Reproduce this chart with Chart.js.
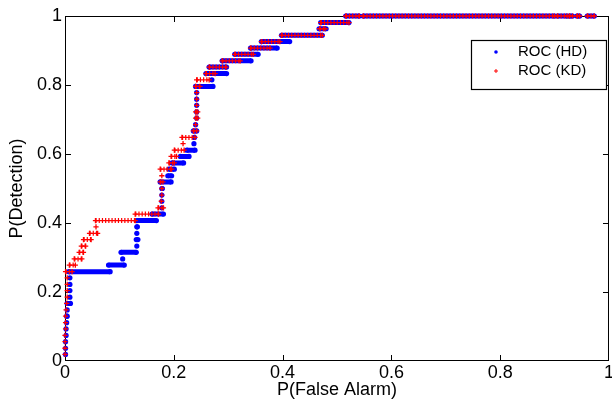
<!DOCTYPE html>
<html>
<head>
<meta charset="utf-8">
<script src="https://cdn.jsdelivr.net/npm/chart.js@4.4.1/dist/chart.umd.min.js"></script>
<style>
html, body { margin: 0; padding: 0; background: #fff; overflow: hidden; }
/* 3px de mas a la derecha: el medio rotulo "1" queda fuera como en el original */
#wrap { width: 615px; height: 401px; }
</style>
</head>
<body>
<div id="wrap"><canvas id="roc"></canvas></div>
<script>
// Ticks de ambos ejes
const ejeTicks = [0, 0.2, 0.4, 0.6, 0.8, 1];

// ROC (HD): un nivel de deteccion por fila -> y, x inicial, x final
const hdY  = [0.019, 0.037, 0.056, 0.074, 0.093, 0.111, 0.130, 0.148, 0.167, 0.185, 0.204, 0.222, 0.241, 0.259, 0.278, 0.296, 0.315, 0.333, 0.352, 0.370, 0.389, 0.407, 0.426, 0.444, 0.463, 0.481, 0.500, 0.519, 0.537, 0.556, 0.574, 0.593, 0.611, 0.630, 0.648, 0.667, 0.685, 0.704, 0.722, 0.741, 0.759, 0.778, 0.796, 0.815, 0.833, 0.852, 0.870, 0.889, 0.907, 0.926, 0.944, 0.963, 0.981, 1, 1, 1, 1, 1, 1];
const hdX0 = [0.001, 0.001, 0.001, 0.002, 0.002, 0.003, 0.003, 0.004, 0.004, 0.009, 0.009, 0.009, 0.009, 0.007, 0.080, 0.106, 0.103, 0.132, 0.131, 0.132, 0.132, 0.132, 0.160, 0.178, 0.178, 0.178, 0.178, 0.175, 0.189, 0.191, 0.197, 0.212, 0.224, 0.237, 0.238, 0.236, 0.240, 0.242, 0.242, 0.242, 0.242, 0.242, 0.240, 0.270, 0.259, 0.265, 0.289, 0.312, 0.341, 0.361, 0.398, 0.467, 0.470, 0.516, 0.548, 0.905, 0.927, 0.941, 0.960];
const hdX1 = [0.001, 0.001, 0.001, 0.002, 0.002, 0.003, 0.004, 0.004, 0.010, 0.009, 0.009, 0.009, 0.009, 0.083, 0.109, 0.106, 0.131, 0.132, 0.134, 0.132, 0.133, 0.168, 0.181, 0.178, 0.178, 0.178, 0.179, 0.195, 0.196, 0.201, 0.218, 0.228, 0.239, 0.237, 0.238, 0.242, 0.240, 0.242, 0.242, 0.242, 0.242, 0.242, 0.272, 0.270, 0.297, 0.297, 0.342, 0.355, 0.390, 0.413, 0.473, 0.480, 0.522, 0.541, 0.900, 0.923, 0.933, 0.946, 0.973];

// ROC (KD)
const kdY  = [0.019, 0.037, 0.056, 0.074, 0.093, 0.111, 0.130, 0.148, 0.167, 0.185, 0.204, 0.222, 0.241, 0.259, 0.278, 0.296, 0.315, 0.333, 0.352, 0.370, 0.389, 0.407, 0.426, 0.444, 0.463, 0.481, 0.500, 0.519, 0.537, 0.556, 0.574, 0.593, 0.611, 0.630, 0.648, 0.667, 0.685, 0.704, 0.722, 0.741, 0.759, 0.778, 0.796, 0.815, 0.833, 0.852, 0.870, 0.889, 0.907, 0.926, 0.944, 0.963, 0.981, 1, 1, 1, 1, 1, 1];
const kdX0 = [0.000, 0.000, 0.000, 0.000, 0.001, 0.001, 0.001, 0.002, 0.003, 0.004, 0.004, 0.004, 0.004, 0.001, 0.008, 0.017, 0.026, 0.030, 0.034, 0.045, 0.057, 0.056, 0.129, 0.171, 0.177, 0.178, 0.178, 0.175, 0.178, 0.175, 0.191, 0.195, 0.201, 0.217, 0.215, 0.236, 0.240, 0.240, 0.240, 0.242, 0.242, 0.242, 0.240, 0.242, 0.259, 0.265, 0.289, 0.312, 0.341, 0.361, 0.398, 0.468, 0.470, 0.516, 0.548, 0.905, 0.927, 0.941, 0.960];
const kdX1 = [0.000, 0.000, 0.000, 0.000, 0.001, 0.001, 0.001, 0.002, 0.003, 0.004, 0.004, 0.004, 0.004, 0.013, 0.019, 0.031, 0.034, 0.038, 0.048, 0.060, 0.057, 0.129, 0.172, 0.181, 0.177, 0.178, 0.178, 0.180, 0.178, 0.196, 0.201, 0.205, 0.219, 0.217, 0.239, 0.242, 0.240, 0.244, 0.244, 0.242, 0.242, 0.242, 0.248, 0.265, 0.276, 0.296, 0.322, 0.346, 0.377, 0.395, 0.473, 0.478, 0.522, 0.541, 0.900, 0.923, 0.933, 0.946, 0.973];

const fuente = "'Liberation Sans', Arial, Helvetica, sans-serif";

// Cada nivel es un tramo horizontal; un null entre tramos corta la linea
function puntos(ys, x0s, x1s) {
    const out = [];
    ys.forEach((y, i) => {
        out.push({ x: x0s[i], y: y });
        if (x1s[i] > x0s[i]) out.push({ x: x1s[i], y: y });
        out.push({ x: x1s[i], y: null });
    });
    return out;
}

// Marco estilo MATLAB con ticks hacia adentro
const marco = {
    id: 'marco',
    beforeDatasetsDraw(chart) {
        const { ctx, chartArea: a, scales } = chart;
        ctx.save();
        ctx.strokeStyle = '#000';
        ctx.lineWidth = 1;
        ctx.strokeRect(a.left + 0.5, a.top + 0.5, a.right - a.left - 1, a.bottom - a.top - 1);
        ctx.beginPath();
        ejeTicks.slice(1, -1).forEach(v => {
            const px = Math.round(scales.x.getPixelForValue(v)) + 0.5;
            ctx.moveTo(px, a.bottom); ctx.lineTo(px, a.bottom - 6);
            ctx.moveTo(px, a.top); ctx.lineTo(px, a.top + 6);
            const py = Math.round(scales.y.getPixelForValue(v)) + 0.5;
            ctx.moveTo(a.left, py); ctx.lineTo(a.left + 6, py);
            ctx.moveTo(a.right, py); ctx.lineTo(a.right - 6, py);
        });
        ctx.stroke();
        ctx.restore();
    }
};

// Leyenda con recuadro dentro del area
const leyenda = {
    id: 'leyenda',
    afterDatasetsDraw(chart) {
        const { ctx, chartArea: a } = chart;
        const x = a.right - 138, y = a.top + 24, w = 135, h = 49;
        ctx.save();
        ctx.fillStyle = '#fff';
        ctx.fillRect(x, y, w, h);
        ctx.strokeStyle = '#000';
        ctx.lineWidth = 1.2;
        ctx.strokeRect(x + 0.5, y + 0.5, w, h);
        ctx.font = '15px ' + fuente;
        ctx.textBaseline = 'middle';
        ctx.fillStyle = '#000';
        [0, 1].forEach(i => {
            const ds = chart.data.datasets[i];
            const cy = y + 12 + i * 19;
            ctx.fillStyle = ds.borderColor;
            ctx.strokeStyle = ds.borderColor;
            if (ds.pointStyle === 'circle') {
                ctx.beginPath(); ctx.arc(x + 25, cy, 1.8, 0, Math.PI * 2); ctx.fill();
            } else {
                ctx.lineWidth = 1;
                ctx.beginPath();
                ctx.moveTo(x + 23, cy); ctx.lineTo(x + 27, cy);
                ctx.moveTo(x + 25, cy - 2); ctx.lineTo(x + 25, cy + 2);
                ctx.stroke();
            }
            ctx.fillStyle = '#000';
            ctx.fillText(ds.label, x + 47, cy);
        });
        ctx.restore();
    }
};

const etiqueta = v => String(Math.round(v * 10) / 10);

new Chart(document.getElementById('roc'), {
    type: 'scatter',
    data: {
        datasets: [
            {
                label: 'ROC (HD)',
                data: puntos(hdY, hdX0, hdX1),
                showLine: true,
                borderColor: '#0000ff',
                backgroundColor: '#0000ff',
                borderWidth: 5,
                pointStyle: 'circle',
                pointRadius: 2.6,
                pointBorderWidth: 0,
                clip: false,
                order: 3
            },
            {
                label: 'ROC (KD)',
                data: puntos(kdY, kdX0, kdX1),
                showLine: true,
                borderColor: '#ff0000',
                backgroundColor: '#ff0000',
                borderWidth: 1.3,
                pointStyle: 'cross',
                pointRadius: 2.6,
                pointBorderWidth: 1.3,
                clip: false,
                order: 1
            },
            {
                // trazos verticales de los '+' a lo largo de cada tramo
                label: '',
                data: puntos(kdY, kdX0, kdX1),
                showLine: true,
                borderColor: '#ff0000',
                borderWidth: 5,
                borderDash: [1.2, 2],
                pointRadius: 0,
                clip: false,
                order: 2
            }
        ]
    },
    options: {
        responsive: true,
        maintainAspectRatio: false,
        animation: false,
        events: [],
        layout: { padding: { top: 16, right: 2, left: 0, bottom: 0 } },
        plugins: {
            legend: { display: false },
            tooltip: { enabled: false }
        },
        scales: {
            x: {
                type: 'linear',
                min: 0,
                max: 1,
                afterBuildTicks: s => { s.ticks = ejeTicks.map(v => ({ value: v })); },
                afterFit: s => { s.height = 40; },
                grid: { display: false, drawTicks: false },
                border: { display: false },
                ticks: { color: '#000', padding: 1, maxRotation: 0, callback: etiqueta, font: { family: fuente, size: 18 } },
                title: { display: true, text: 'P(False Alarm)', color: '#000', padding: 0, font: { family: fuente, size: 18 } }
            },
            y: {
                type: 'linear',
                min: 0,
                max: 1,
                afterBuildTicks: s => { s.ticks = ejeTicks.map(v => ({ value: v })); },
                afterFit: s => { s.width = 65; },
                grid: { display: false, drawTicks: false },
                border: { display: false },
                ticks: { color: '#000', padding: 3, callback: etiqueta, font: { family: fuente, size: 18 } },
                title: { display: true, text: 'P(Detection)', color: '#000', padding: { top: 6, bottom: 0 }, font: { family: fuente, size: 18 } }
            }
        }
    },
    plugins: [marco, leyenda]
});
</script>
</body>
</html>
